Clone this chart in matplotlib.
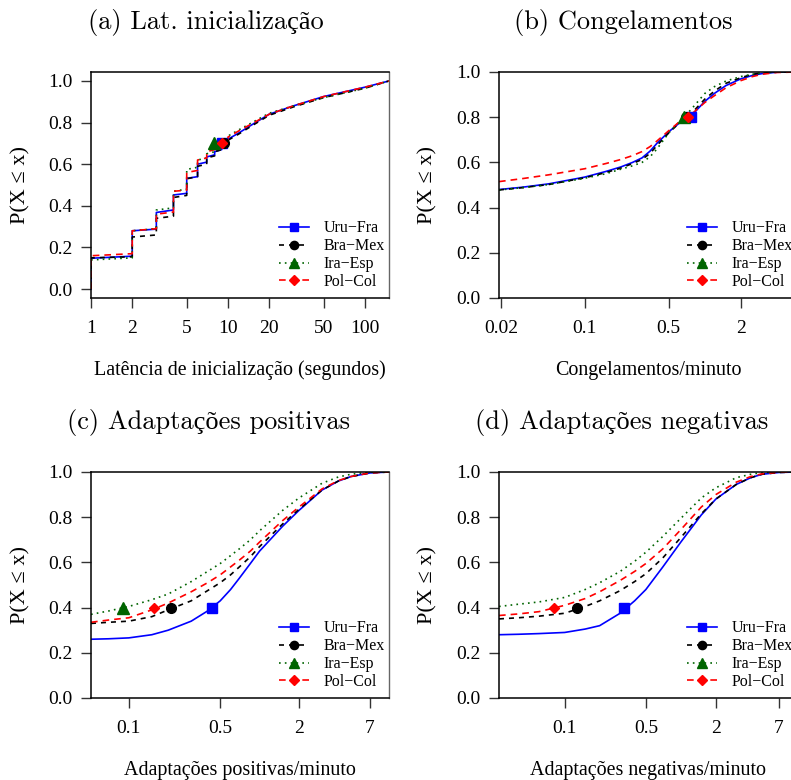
import numpy as np
import matplotlib
matplotlib.use("Agg")
import matplotlib.pyplot as plt

plt.rcParams['font.family'] = ['Liberation Serif', 'DejaVu Serif']

series_names = ["Uru\u2212Fra", "Bra\u2212Mex", "Ira\u2212Esp", "Pol\u2212Col"]

# ---------------- (a) Latência de inicialização ----------------
lat_x = [1, 1, 2, 2, 3, 3, 4, 4, 5, 5, 6, 6, 7, 7, 8, 8, 9, 9, 10, 10, 12, 15, 20, 30, 50, 100, 150]
lat_uru = [0.0, 0.148, 0.158, 0.28, 0.288, 0.368, 0.38, 0.452, 0.46, 0.532, 0.54, 0.60, 0.61, 0.635,
           0.645, 0.66, 0.67, 0.685, 0.695, 0.72, 0.75, 0.79, 0.84, 0.88, 0.925, 0.97, 1.0]
lat_bra = [0.0, 0.15, 0.155, 0.25, 0.26, 0.34, 0.35, 0.44, 0.45, 0.53, 0.54, 0.59, 0.60, 0.63,
           0.64, 0.66, 0.67, 0.69, 0.70, 0.715, 0.745, 0.785, 0.835, 0.875, 0.92, 0.965, 1.0]
lat_ira = [0.0, 0.14, 0.15, 0.28, 0.29, 0.38, 0.39, 0.47, 0.48, 0.575, 0.585, 0.62, 0.63, 0.65,
           0.66, 0.68, 0.69, 0.70, 0.71, 0.735, 0.765, 0.80, 0.845, 0.88, 0.92, 0.965, 1.0]
lat_pol = [0.0, 0.16, 0.17, 0.28, 0.29, 0.36, 0.37, 0.47, 0.475, 0.56, 0.57, 0.62, 0.63, 0.66,
           0.67, 0.68, 0.69, 0.70, 0.71, 0.73, 0.76, 0.795, 0.84, 0.88, 0.925, 0.97, 1.0]
lat_mark_x = [9.1, 9.3, 7.9, 9.05]
lat_mark_y = [0.7, 0.7, 0.7, 0.7]
lat_ticks = [1, 2, 5, 10, 20, 50, 100]

# ---------------- (b) Congelamentos ----------------
cong_x = [0.0193, 0.03, 0.05, 0.1, 0.15, 0.2, 0.25, 0.3, 0.35, 0.4, 0.5, 0.6, 0.7, 0.8,
          1.0, 1.2, 1.5, 2.0, 2.5, 3.0, 4.0, 6.0]
cong_uru = [0.48, 0.49, 0.505, 0.535, 0.56, 0.58, 0.60, 0.62, 0.65, 0.685, 0.735, 0.77, 0.795, 0.815,
            0.87, 0.905, 0.94, 0.97, 0.985, 0.993, 0.999, 1.0]
cong_bra = [0.478, 0.488, 0.502, 0.532, 0.555, 0.575, 0.595, 0.613, 0.64, 0.675, 0.73, 0.77, 0.80, 0.825,
            0.88, 0.915, 0.95, 0.975, 0.99, 0.996, 1.0, 1.0]
cong_ira = [0.478, 0.488, 0.502, 0.530, 0.55, 0.57, 0.585, 0.60, 0.625, 0.66, 0.73, 0.775, 0.81, 0.845,
            0.905, 0.935, 0.96, 0.98, 0.99, 0.996, 1.0, 1.0]
cong_pol = [0.515, 0.528, 0.545, 0.572, 0.595, 0.613, 0.63, 0.648, 0.67, 0.695, 0.74, 0.775, 0.80, 0.82,
            0.865, 0.895, 0.93, 0.962, 0.98, 0.99, 0.998, 1.0]
cong_mark_x = [0.76, 0.70, 0.67, 0.72]
cong_mark_y = [0.8, 0.8, 0.8, 0.8]
cong_ticks = [0.02, 0.1, 0.5, 2]

# ---------------- (c) Adaptações positivas ----------------
pos_x = [0.0514, 0.07, 0.1, 0.15, 0.2, 0.3, 0.4, 0.5, 0.6, 0.7, 0.85, 1.0, 1.5, 2.0, 3.0, 4.0, 5.0, 7.0, 9.8]
pos_uru = [0.26, 0.262, 0.266, 0.28, 0.30, 0.34, 0.385, 0.43, 0.48, 0.53, 0.595, 0.65, 0.76, 0.83, 0.92, 0.96, 0.98, 0.996, 1.0]
pos_bra = [0.33, 0.335, 0.34, 0.36, 0.39, 0.43, 0.475, 0.51, 0.545, 0.58, 0.625, 0.67, 0.77, 0.835, 0.92, 0.96, 0.98, 0.996, 1.0]
pos_ira = [0.37, 0.385, 0.405, 0.435, 0.46, 0.515, 0.56, 0.595, 0.63, 0.66, 0.70, 0.74, 0.83, 0.885, 0.95, 0.978, 0.99, 0.999, 1.0]
pos_pol = [0.335, 0.345, 0.355, 0.39, 0.42, 0.47, 0.51, 0.545, 0.58, 0.61, 0.65, 0.69, 0.785, 0.845, 0.925, 0.962, 0.98, 0.996, 1.0]
pos_mark_x = [0.435, 0.21, 0.09, 0.156]
pos_mark_y = [0.4, 0.4, 0.4, 0.4]
adapt_ticks = [0.1, 0.5, 2, 7]

# ---------------- (d) Adaptações negativas ----------------
neg_x = [0.0272, 0.04, 0.06, 0.1, 0.15, 0.2, 0.3, 0.4, 0.5, 0.7, 1.0, 1.5, 2.0, 3.0, 4.0, 5.0, 7.0, 10.0]
neg_uru = [0.28, 0.282, 0.285, 0.29, 0.305, 0.32, 0.375, 0.43, 0.48, 0.58, 0.69, 0.81, 0.88, 0.945, 0.975, 0.99, 0.998, 1.0]
neg_bra = [0.35, 0.355, 0.362, 0.375, 0.405, 0.43, 0.475, 0.515, 0.55, 0.62, 0.71, 0.815, 0.88, 0.945, 0.975, 0.99, 0.998, 1.0]
neg_ira = [0.405, 0.415, 0.425, 0.445, 0.48, 0.51, 0.56, 0.605, 0.645, 0.715, 0.795, 0.885, 0.93, 0.975, 0.99, 0.997, 1.0, 1.0]
neg_pol = [0.365, 0.372, 0.382, 0.41, 0.44, 0.47, 0.52, 0.56, 0.595, 0.66, 0.745, 0.845, 0.90, 0.955, 0.98, 0.992, 0.999, 1.0]
neg_mark_x = [0.323, 0.127, np.nan, 0.081]
neg_mark_y = [0.4, 0.4, np.nan, 0.4]

titles = ["(a) Lat. inicialização", "(b) Congelamentos",
          "(c) Adaptações positivas", "(d) Adaptações negativas"]
xlabels = ["Latência de inicialização (segundos)", "Congelamentos/minuto",
           "Adaptações positivas/minuto", "Adaptações negativas/minuto"]

colors = ['#0000FF', '#000000', '#006400', '#FF0000']
markers = ['s', 'o', '^', 'D']
msizes = [7, 7, 8, 5.5]
dash_styles = ['-', (0, (3, 3)), (0, (1, 2.5)), (0, (4, 3))]

W, H = 791, 780
fig = plt.figure(figsize=(W / 100, H / 100), dpi=100)

def rect(l, r, t, b):
    return [l / W, 1 - b / H, (r - l) / W, (b - t) / H]

panels = [
    dict(pos=rect(91, 389, 72, 298), x=lat_x, ys=[lat_uru, lat_bra, lat_ira, lat_pol],
         mx=lat_mark_x, my=lat_mark_y, xlim=(1, 150), ylim=(-0.043, 1.043), ticks=lat_ticks,
         tlabels=[str(t) for t in lat_ticks], tcx=206, tcy=22, lx=21, ly=185, xly=370),
    dict(pos=rect(499, 797, 72, 298), x=cong_x, ys=[cong_uru, cong_bra, cong_ira, cong_pol],
         mx=cong_mark_x, my=cong_mark_y, xlim=(0.0193, 5.86), ylim=(0, 1), ticks=cong_ticks,
         tlabels=["0.02", "0.1", "0.5", "2"], tcx=623, tcy=22, lx=428, ly=185, xly=370),
    dict(pos=rect(91, 389, 472, 698), x=pos_x, ys=[pos_uru, pos_bra, pos_ira, pos_pol],
         mx=pos_mark_x, my=pos_mark_y, xlim=(0.0514, 9.76), ylim=(0, 1), ticks=adapt_ticks,
         tlabels=["0.1", "0.5", "2", "7"], tcx=209, tcy=423, lx=21, ly=585, xly=771),
    dict(pos=rect(499, 797, 472, 698), x=neg_x, ys=[neg_uru, neg_bra, neg_ira, neg_pol],
         mx=neg_mark_x, my=neg_mark_y, xlim=(0.0272, 10.0), ylim=(0, 1), ticks=adapt_ticks,
         tlabels=["0.1", "0.5", "2", "7"], tcx=622, tcy=423, lx=428, ly=585, xly=771),
]

for i, p in enumerate(panels):
    ax = fig.add_axes(p['pos'])
    ax.set_xscale('log')
    for k in range(4):
        ax.plot(p['x'], p['ys'][k], color=colors[k], linestyle=dash_styles[k], lw=1.2)
    for k in range(4):
        ax.plot([p['mx'][k]], [p['my'][k]], linestyle='none', marker=markers[k],
                color=colors[k], markersize=msizes[k])
    handles = [plt.Line2D([], [], color=colors[k], linestyle=dash_styles[k], lw=1.2,
                          marker=markers[k], markersize=msizes[k] * 0.85) for k in range(4)]
    ax.legend(handles, series_names, loc='lower right', bbox_to_anchor=(0.985, 0.035),
              frameon=False, fontsize=11.5, handlelength=1.9, handletextpad=0.9,
              labelspacing=0.12, borderpad=0, borderaxespad=0, numpoints=1)
    ax.set_xlim(*p['xlim'])
    ax.set_ylim(*p['ylim'])
    ax.set_xticks(p['ticks'])
    ax.set_xticklabels(p['tlabels'])
    ax.xaxis.set_minor_locator(matplotlib.ticker.NullLocator())
    ax.set_yticks([0.0, 0.2, 0.4, 0.6, 0.8, 1.0])
    ax.set_yticklabels(["0.0", "0.2", "0.4", "0.6", "0.8", "1.0"])
    ax.tick_params(axis='both', labelsize=14, length=7, width=1.0, color='#333333')
    ax.tick_params(axis='x', pad=9)
    ax.tick_params(axis='y', pad=6)
    for s in ['left', 'bottom', 'top']:
        ax.spines[s].set_linewidth(1.1)
        ax.spines[s].set_color('black')
    ax.spines['right'].set_linewidth(1.0)
    ax.spines['right'].set_color('#666666')
    fig.text(p['tcx'] / W, 1 - p['tcy'] / H, titles[i], ha='center', va='center',
             fontsize=19, family=['cmr10', 'Liberation Serif'])
    fig.text(p['lx'] / W, 1 - p['ly'] / H, "P(X \u2264 x)",
             rotation=90, ha='center', va='center', fontsize=16)
    ax_pos = p['pos']
    fig.text(ax_pos[0] + 149 / W, 1 - p['xly'] / H, xlabels[i], ha='center', va='center',
             fontsize=14.4)

fig.savefig("out.png", dpi=100)
